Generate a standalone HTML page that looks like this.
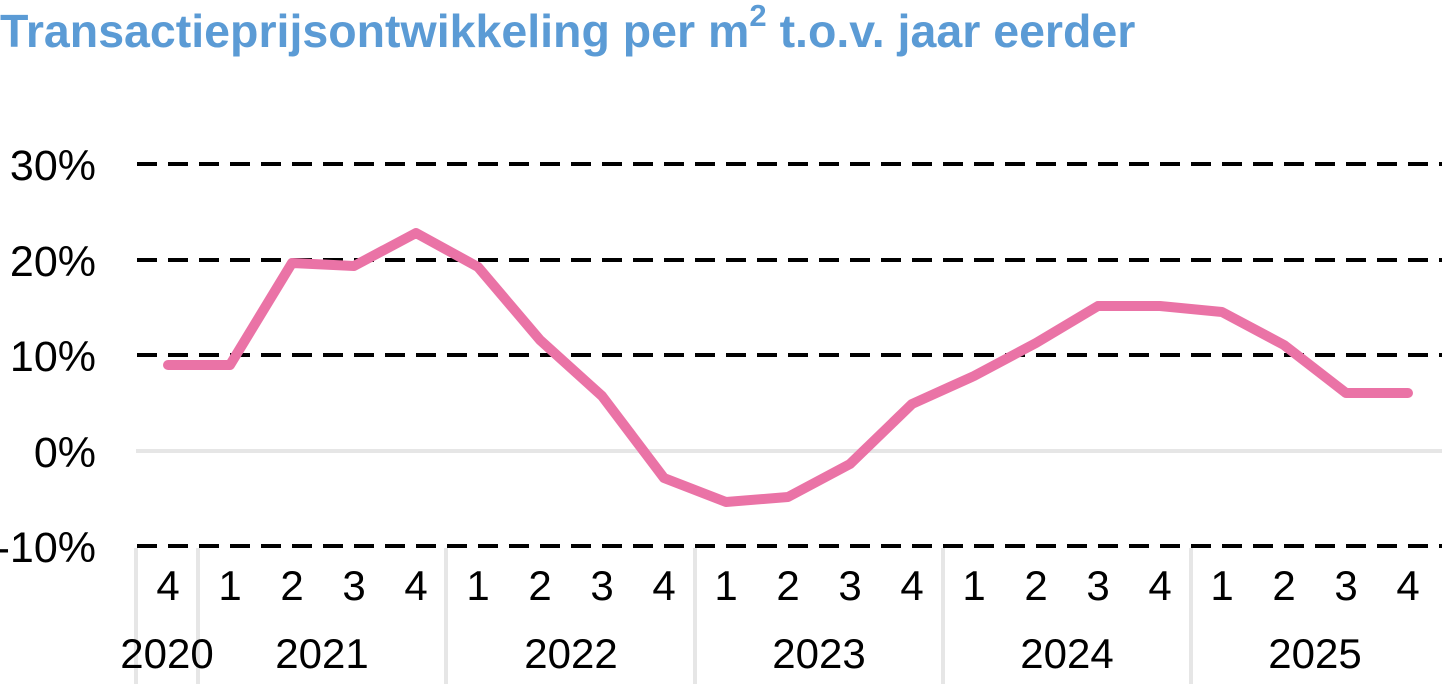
<!DOCTYPE html>
<html><head><meta charset="utf-8"><style>
html,body{margin:0;padding:0;background:#fff;width:1442px;height:692px;overflow:hidden}
svg{display:block}
text{font-family:"Liberation Sans",Arial,sans-serif}
</style></head><body>
<svg width="1442" height="692" viewBox="0 0 1442 692">
<text x="0" y="47" font-size="46.5" font-weight="bold" fill="#5b9bd5">Transactieprijsontwikkeling per m<tspan dy="-21" font-size="31">2</tspan><tspan dy="21"> t.o.v. jaar eerder</tspan></text>
<g stroke="#e6e6e6" stroke-width="4">
<line x1="136" y1="451" x2="1442" y2="451"/>
<line x1="136" y1="548" x2="136" y2="684"/>
<line x1="198" y1="548" x2="198" y2="684"/>
<line x1="446" y1="548" x2="446" y2="684"/>
<line x1="695" y1="548" x2="695" y2="684"/>
<line x1="943" y1="548" x2="943" y2="684"/>
<line x1="1191" y1="548" x2="1191" y2="684"/>
</g>
<g stroke="#000" stroke-width="4" stroke-dasharray="20,11">
<line x1="137" y1="164" x2="1442" y2="164"/>
<line x1="137" y1="260" x2="1442" y2="260"/>
<line x1="137" y1="355" x2="1442" y2="355"/>
<line x1="137" y1="546" x2="1442" y2="546"/>
</g>
<g font-size="43" fill="#000" text-anchor="end">
<text x="96" y="180">30%</text>
<text x="96" y="276">20%</text>
<text x="96" y="371">10%</text>
<text x="96" y="467">0%</text>
<text x="96" y="562">-10%</text>
</g>
<g font-size="42" fill="#000" text-anchor="middle">
<text x="168" y="600">4</text><text x="230" y="600">1</text><text x="292" y="600">2</text><text x="354" y="600">3</text><text x="416" y="600">4</text>
<text x="478" y="600">1</text><text x="540" y="600">2</text><text x="602" y="600">3</text><text x="664" y="600">4</text>
<text x="726" y="600">1</text><text x="788" y="600">2</text><text x="850" y="600">3</text><text x="912" y="600">4</text>
<text x="974" y="600">1</text><text x="1036" y="600">2</text><text x="1098" y="600">3</text><text x="1160" y="600">4</text>
<text x="1222" y="600">1</text><text x="1284" y="600">2</text><text x="1346" y="600">3</text><text x="1408" y="600">4</text>
<text x="167" y="668">2020</text><text x="322" y="668">2021</text><text x="571" y="668">2022</text>
<text x="819" y="668">2023</text><text x="1067" y="668">2024</text><text x="1315" y="668">2025</text>
</g>
<polyline fill="none" stroke="#ea73a6" stroke-width="10" stroke-linejoin="round" stroke-linecap="round"
points="168,365 230,365 292,263 354,266 416,233 478,267 540,340 602,396 664,478 726,502 788,497 850,464 912,404 974,376 1036,343 1098,306 1160,306 1222,312 1284,345 1346,393 1408,393"/>
</svg>
</body></html>
